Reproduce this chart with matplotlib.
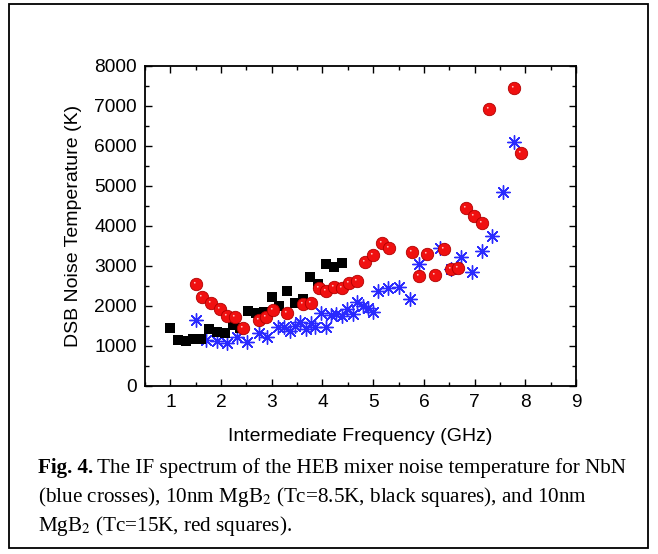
import matplotlib
matplotlib.use("Agg")
import matplotlib.pyplot as plt
from matplotlib.path import Path
from matplotlib.patches import Rectangle
import numpy as np

# ---- data ----
nbn_x = [1.51, 1.70, 1.92, 2.12, 2.32, 2.51, 2.74, 2.91, 3.13, 3.24, 3.36, 3.46, 3.56,
         3.67, 3.77, 3.86, 3.97, 4.07, 4.16, 4.27, 4.38, 4.49, 4.60, 4.69, 4.80, 4.89,
         4.99, 5.10, 5.30, 5.50, 5.72, 5.91, 6.32, 6.53, 6.73, 6.94, 7.14, 7.35, 7.56, 7.77]
nbn_y = [1650, 1150, 1125, 1067, 1217, 1108, 1333, 1217, 1467, 1467, 1383, 1500, 1608,
         1417, 1583, 1467, 1833, 1467, 1775, 1800, 1750, 1917, 1800, 2108, 2000, 1942,
         1858, 2383, 2442, 2483, 2175, 3050, 3442, 2925, 3217, 2858, 3375, 3750, 4842, 6108]

mgb85_x = [1.00, 1.16, 1.30, 1.45, 1.60, 1.76, 1.92, 2.08, 2.23, 2.37, 2.53, 2.68, 2.85,
           3.00, 3.14, 3.31, 3.46, 3.61, 3.76, 3.92, 4.07, 4.23, 4.38]
mgb85_y = [1442, 1150, 1133, 1183, 1167, 1425, 1358, 1325, 1525, 1442, 1883, 1817, 1858,
           2233, 2000, 2383, 2083, 2175, 2717, 2550, 3050, 2983, 3083]

mgb15_x = [1.51, 1.63, 1.81, 1.97, 2.12, 2.28, 2.44, 2.74, 2.89, 3.03, 3.31, 3.61, 3.77,
           3.94, 4.07, 4.23, 4.38, 4.53, 4.69, 4.84, 4.99, 5.17, 5.32, 5.76, 5.91, 6.07,
           6.22, 6.39, 6.53, 6.68, 6.83, 6.99, 7.14, 7.29, 7.77, 7.91]
mgb15_y = [2550, 2233, 2083, 1917, 1750, 1733, 1442, 1650, 1733, 1900, 1817, 2042, 2083,
           2442, 2383, 2467, 2442, 2583, 2633, 3108, 3275, 3583, 3442, 3358, 2758, 3300,
           2775, 3425, 2925, 2942, 4442, 4250, 4067, 6917, 7442, 5817]

x_ticks = [1, 2, 3, 4, 5, 6, 7, 8, 9]
y_ticks = [0, 1000, 2000, 3000, 4000, 5000, 6000, 7000, 8000]

x_label = "Intermediate Frequency (GHz)"
y_label = "DSB Noise Temperature (K)"

# ---- figure ----
W, H = 658, 554
fig = plt.figure(figsize=(W / 100, H / 100), dpi=100)
fig.patch.set_facecolor("white")

# outer frame
fig.patches.append(Rectangle((9 / W, 1 - 548 / H), (648 - 9) / W, (548 - 4) / H,
                             transform=fig.transFigure, fill=False,
                             edgecolor="black", linewidth=1.3, zorder=0))

ax = fig.add_axes([145 / W, 1 - 386 / H, (576 - 145) / W, (386 - 66) / H])

sans = ["Liberation Sans", "DejaVu Sans"]
serif = ["Liberation Serif", "DejaVu Serif"]

ax.scatter(nbn_x, nbn_y, marker=(8, 2, 0), s=95, color="#2a2aff", linewidths=1.0, zorder=3)
ax.scatter(mgb85_x, mgb85_y, marker="s", s=62, color="black", linewidths=0, zorder=4)
ax.scatter(mgb15_x, mgb15_y, marker="o", s=80, color="#f01010", edgecolors="#b00000",
           linewidths=0.6, zorder=5)
# highlight on spheres
verts = [(-1, -1), (1, 1)]
codes = [Path.MOVETO, Path.MOVETO]
circ = Path.circle(center=(-0.28, 0.28), radius=0.14)
hl_path = Path(np.vstack([verts, circ.vertices]), list(codes) + list(circ.codes))
ax.scatter(mgb15_x, mgb15_y, marker=hl_path, s=80, color="#ffc8c8", linewidths=0, zorder=6)

ax.set_xlim(0.5, 9)
ax.set_ylim(0, 8000)
ax.set_xticks(x_ticks)
ax.set_yticks(y_ticks)
ax.set_xticks(np.arange(0.5, 9.01, 0.5), minor=True)
ax.set_yticks(np.arange(0, 8001, 500), minor=True)
ax.tick_params(which="both", direction="in", top=True, right=True, width=1.0)
ax.tick_params(which="major", length=5, labelsize=13.8, pad=6)
ax.tick_params(which="minor", length=3)
for lbl in ax.get_xticklabels() + ax.get_yticklabels():
    lbl.set_family(sans)
for sp in ax.spines.values():
    sp.set_linewidth(1.3)

ax.set_xlabel(x_label, fontsize=14, family=sans, labelpad=12)
ax.set_ylabel(y_label, fontsize=14, family=sans, labelpad=9)

# ---- caption ----
plt.rcParams["mathtext.fontset"] = "stix"
cap_fs = 15.2
x0 = 38 / W
t_bold = fig.text(x0, 1 - 473 / H, "Fig. 4.", fontsize=cap_fs, family=serif,
                  fontweight="bold", va="baseline", ha="left")
fig.canvas.draw()
r = fig.canvas.get_renderer()
bb = t_bold.get_window_extent(renderer=r)
fig.text(bb.x1 / W + 4 / W, 1 - 473 / H,
         "The IF spectrum of the HEB mixer noise temperature for NbN",
         fontsize=cap_fs, family=serif, va="baseline", ha="left")
fig.text(x0, 1 - 502 / H,
         r"(blue crosses), 10nm MgB$_2$ (Tc=8.5K, black squares), and 10nm",
         fontsize=cap_fs, family=serif, va="baseline", ha="left")
fig.text(x0, 1 - 531 / H, r"MgB$_2$ (Tc=15K, red squares).",
         fontsize=cap_fs, family=serif, va="baseline", ha="left")

fig.savefig("out.png", dpi=100)
